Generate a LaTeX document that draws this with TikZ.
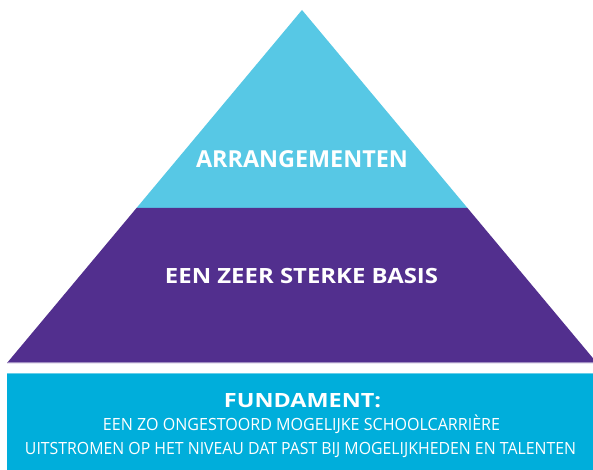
\documentclass[tikz,border=0pt]{standalone}
\usepackage{fontspec}
\setmainfont{Open Sans}
\usepackage{graphicx}
\usetikzlibrary{positioning,calc}
\definecolor{topblue}{HTML}{57C8E5}
\definecolor{basepurple}{HTML}{522F8E}
\definecolor{fundblue}{HTML}{00AEDB}
\tikzset{
  layer/.style={draw=none},
  title/.style={text=white, inner sep=0pt, anchor=base, font=\bfseries},
  sub/.style={text=white, inner sep=0pt, anchor=base, font=\fontsize{16.8}{18}\selectfont},
}
\newcommand{\fitw}[2]{\resizebox{#1}{\height}{#2}}

\begin{document}
\begin{tikzpicture}[x=1pt, y=-1pt]
  \clip (0,0) rectangle (593,470);
  \fill[white] (0,0) rectangle (593,470);

  % Pyramid
  \coordinate (apex) at (302,10);
  \coordinate (bl) at (7,363);
  \coordinate (br) at (597,363);
  \coordinate (ml) at ($(apex)!0.5609!(bl)$);
  \coordinate (mr) at ($(apex)!0.5609!(br)$);
  \fill[topblue, layer] (apex) -- (mr) -- (ml) -- cycle;
  \fill[basepurple, layer] (ml) -- (mr) -- (br) -- (bl) -- cycle;
  \draw[basepurple!55!white, line width=1pt] ($(bl)+(0,-0.5)$) -- ($(br)+(0,-0.5)$);

  % Fundament
  \fill[fundblue] (7,373) rectangle (600,475);
  \draw[fundblue!60!white, line width=1pt] (7,373.5) -- (600,373.5);

  % Nodes
  \node[title] (arr) at (302,168)
    {\fitw{212pt}{\fontsize{23.4}{26}\selectfont ARRANGEMENTEN}};
  \node[title] (basis) at (301.5,283)
    {\fitw{273pt}{\fontsize{21}{24}\selectfont EEN ZEER STERKE BASIS}};
  \node[title] (fund) at (302.5,407)
    {\fitw{157pt}{\fontsize{19.6}{22}\selectfont FUNDAMENT:}};
  \node[sub] (line1) at (301.5,430)
    {\fitw{397pt}{EEN ZO ONGESTOORD MOGELIJKE SCHOOLCARRIÈRE}};
  \node[sub] (line2) at (300.5,454)
    {\fitw{551pt}{UITSTROMEN OP HET NIVEAU DAT PAST BIJ MOGELIJKHEDEN EN TALENTEN}};
\end{tikzpicture}
\end{document}
